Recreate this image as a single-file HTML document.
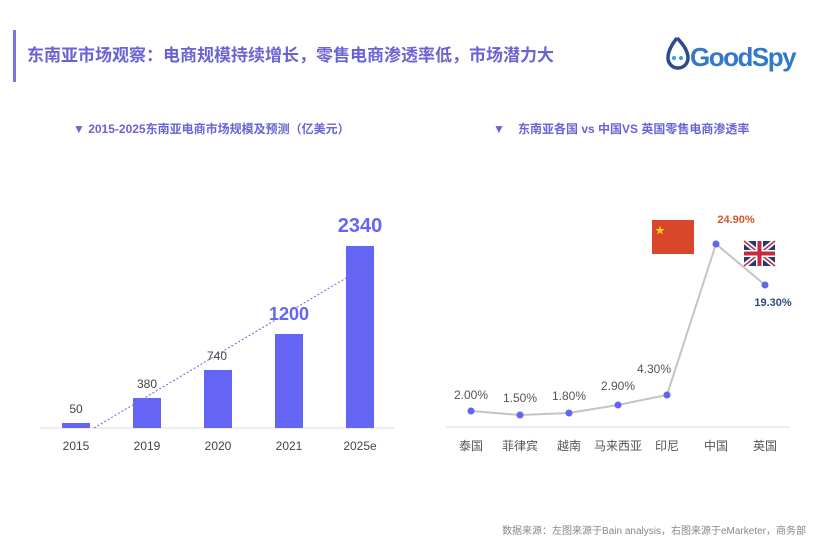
<!DOCTYPE html>
<html><head><meta charset="utf-8"><style>
body{margin:0;width:832px;height:544px;background:#fff;overflow:hidden;font-family:"Liberation Sans","Noto Sans CJK SC",sans-serif;}
</style></head><body>
<svg width="832" height="544" xmlns="http://www.w3.org/2000/svg" style="position:absolute;left:0;top:0;font-family:'Liberation Sans','Noto Sans CJK SC',sans-serif">
<rect x="13" y="30" width="3" height="52" fill="#7b74e0"/>
<text x="27" y="61" font-size="17" font-weight="bold" fill="#6a63d4">东南亚市场观察：电商规模持续增长，零售电商渗透率低，市场潜力大</text>
<g transform="translate(666,36)">
<path d="M11 2 Q2 13 2 22 A10 10 0 0 0 22 22 Q22 13 11 2" fill="none" stroke="#2b4b8c" stroke-width="3.5"/>
<circle cx="8" cy="22" r="2" fill="#3a9ae0"/><circle cx="15" cy="22" r="2" fill="#3a9ae0"/>
<text x="24" y="30" font-size="26" font-weight="bold" fill="#3478c8" letter-spacing="-1.5">GoodSpy</text>
</g>
<text x="73" y="133" font-size="12" font-weight="bold" fill="#6a63d4">▼ 2015-2025东南亚电商市场规模及预测（亿美元）</text>
<text x="493" y="133" font-size="12" font-weight="bold" fill="#6a63d4">▼</text>
<text x="518" y="133" font-size="12" font-weight="bold" fill="#6a63d4">东南亚各国 vs 中国VS 英国零售电商渗透率</text>
<line x1="40" y1="428" x2="395" y2="428" stroke="#ddd"/>
<g fill="#6464f5">
<rect x="62" y="423" width="28" height="5"/>
<rect x="133" y="398" width="28" height="30"/>
<rect x="204" y="370" width="28" height="58"/>
<rect x="275" y="334" width="28" height="94"/>
<rect x="346" y="246" width="28" height="182"/>
</g>
<line x1="94" y1="428" x2="346" y2="278" stroke="#6a63d4" stroke-width="1" stroke-dasharray="2,2"/>
<g font-size="12" fill="#444" text-anchor="middle">
<text x="76" y="413">50</text><text x="147" y="388">380</text><text x="217" y="360">740</text>
<text x="76" y="450">2015</text><text x="147" y="450">2019</text><text x="218" y="450">2020</text><text x="289" y="450">2021</text><text x="360" y="450">2025e</text>
</g>
<text x="289" y="320" font-size="18" font-weight="bold" fill="#6464f5" text-anchor="middle">1200</text>
<text x="360" y="232" font-size="20" font-weight="bold" fill="#6464f5" text-anchor="middle">2340</text>
<line x1="446" y1="427" x2="790" y2="427" stroke="#ddd"/>
<polyline points="471,411 520,415 569,413 618,405 667,395 716,244 765,285" fill="none" stroke="#c4c4c4" stroke-width="2"/>
<g fill="#6464f0">
<circle cx="471" cy="411" r="3.5"/><circle cx="520" cy="415" r="3.5"/><circle cx="569" cy="413" r="3.5"/><circle cx="618" cy="405" r="3.5"/><circle cx="667" cy="395" r="3.5"/><circle cx="716" cy="244" r="3.5"/><circle cx="765" cy="285" r="3.5"/>
</g>
<g font-size="12" fill="#555" text-anchor="middle">
<text x="471" y="399">2.00%</text><text x="520" y="402">1.50%</text><text x="569" y="400">1.80%</text><text x="618" y="390">2.90%</text><text x="654" y="373">4.30%</text>
<text x="471" y="450">泰国</text><text x="520" y="450">菲律宾</text><text x="569" y="450">越南</text><text x="618" y="450">马来西亚</text><text x="667" y="450">印尼</text><text x="716" y="450">中国</text><text x="765" y="450">英国</text>
</g>
<text x="736" y="223" font-size="11" font-weight="bold" fill="#d0582c" text-anchor="middle">24.90%</text>
<text x="773" y="306" font-size="11" font-weight="bold" fill="#2b4b7c" text-anchor="middle">19.30%</text>
<rect x="652" y="220" width="42" height="34" fill="#d9472b"/>
<text x="655" y="234" font-size="10" fill="#f7d21b">★</text>
<g transform="translate(744,241)">
<rect width="31" height="25" fill="#233a78"/>
<path d="M0 0L31 25M31 0L0 25" stroke="#fff" stroke-width="5"/>
<path d="M0 0L31 25M31 0L0 25" stroke="#c8283c" stroke-width="1.5"/>
<rect x="12" width="7" height="25" fill="#fff"/><rect y="9" width="31" height="7" fill="#fff"/>
<rect x="13.5" width="4" height="25" fill="#c8283c"/><rect y="10.5" width="31" height="4" fill="#c8283c"/>
</g>
<text x="806" y="534" font-size="10" fill="#888" text-anchor="end">数据来源：左图来源于Bain analysis，右图来源于eMarketer，商务部</text>
</svg>
</body></html>
